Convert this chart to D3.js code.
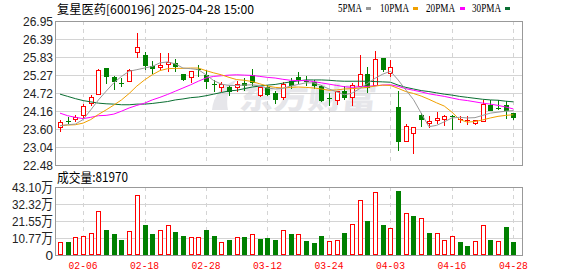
<!DOCTYPE html>
<html>
<head>
<meta charset="utf-8">
<script src="https://cdn.jsdelivr.net/npm/d3@7"></script>
<style>
  body { margin: 0; background: #fff; }
  svg { display: block; }
</style>
</head>
<body>
<div id="chart"></div>
<script>
// 交易日（2025-01-24 ~ 2025-04-28，共 60 根 K 线）
const dates = [
  "01-24","01-27","02-05","02-06","02-07","02-10","02-11","02-12","02-13","02-14",
  "02-17","02-18","02-19","02-20","02-21","02-24","02-25","02-26","02-27","02-28",
  "03-03","03-04","03-05","03-06","03-07","03-10","03-11","03-12","03-13","03-14",
  "03-17","03-18","03-19","03-20","03-21","03-24","03-25","03-26","03-27","03-28",
  "03-31","04-01","04-02","04-03","04-07","04-08","04-09","04-10","04-11","04-14",
  "04-15","04-16","04-17","04-18","04-21","04-22","04-23","04-24","04-25","04-28"
];

// K 线数据
const open  = [23.65,23.85,23.92,24.04,24.40,24.69,25.49,25.21,25.03,25.10,
               25.99,25.88,25.56,25.53,25.62,25.66,25.30,25.22,25.45,25.27,
               24.99,24.91,24.90,24.90,25.02,25.26,24.66,24.89,24.71,24.59,
               25.08,25.21,25.10,25.06,24.92,24.56,24.49,24.77,24.58,24.92,
               25.31,24.95,25.80,25.34,24.28,23.22,23.46,24.04,23.77,23.87,
               23.90,24.00,23.89,23.84,23.79,23.85,24.35,24.24,24.35,24.08];
const high  = [23.87,23.96,24.02,24.37,24.64,25.47,25.49,25.25,25.17,25.47,
               26.58,25.99,25.70,25.96,25.96,25.78,25.30,25.41,25.59,25.44,
               25.13,25.05,24.97,25.08,25.18,25.47,24.89,24.97,24.77,25.06,
               25.18,25.36,25.23,25.13,24.97,24.71,24.77,24.94,25.03,25.90,
               25.51,26.03,25.80,25.73,24.77,23.75,23.66,24.09,24.00,24.13,
               24.02,24.02,23.99,23.99,23.89,24.51,24.51,24.51,24.46,24.08];
const low   = [23.53,23.77,23.84,23.98,24.33,24.69,25.03,24.85,24.93,25.08,
               25.82,25.47,25.34,25.47,25.39,25.39,25.13,25.06,25.23,24.87,
               24.77,24.77,24.66,24.77,24.82,24.97,24.63,24.66,24.40,24.54,
               24.87,25.03,24.97,24.87,24.46,24.35,24.38,24.53,24.33,24.92,
               24.74,24.95,25.39,25.23,22.95,23.22,22.85,23.68,23.66,23.78,
               23.73,23.61,23.81,23.76,23.76,23.84,24.18,24.22,23.94,23.92];
const close = [23.80,23.80,23.96,24.32,24.58,25.43,25.25,25.10,25.00,25.42,
               26.14,25.59,25.49,25.58,25.67,25.54,25.15,25.41,25.42,25.08,
               24.97,24.99,24.79,25.00,24.97,25.06,24.89,24.68,24.54,24.99,
               24.97,25.11,25.06,24.97,24.51,24.52,24.77,24.59,24.97,25.30,
               24.89,25.77,25.46,25.51,23.22,23.68,23.66,23.92,23.84,23.94,
               24.00,23.96,23.92,23.88,23.89,24.38,24.20,24.22,24.18,23.96];

// 均线
const ma5  = [23.70,23.73,23.75,23.89,24.19,24.50,24.77,25.03,25.23,25.39,
              25.44,25.49,25.54,25.65,25.68,25.62,25.49,25.47,25.44,25.28,
              25.10,24.99,24.95,24.95,24.96,24.97,24.93,24.87,24.84,24.86,
              24.93,24.98,25.03,25.03,24.95,24.84,24.75,24.66,24.71,24.85,
              25.01,25.17,25.30,25.39,25.12,24.81,24.51,24.09,23.67,23.71,
              23.82,23.94,23.96,23.94,23.95,24.02,24.09,24.12,24.15,24.17];
const ma10 = [23.70,23.72,23.73,23.78,23.89,24.05,24.19,24.34,24.50,24.70,
              24.93,25.12,25.28,25.41,25.47,25.48,25.48,25.49,25.49,25.41,
              25.34,25.28,25.20,25.13,25.11,25.07,25.00,24.93,24.89,24.87,
              24.89,24.90,24.89,24.87,24.84,24.80,24.81,24.84,24.85,24.87,
              24.89,24.93,24.96,24.95,24.86,24.76,24.70,24.62,24.52,24.41,
              24.31,24.12,23.89,23.81,23.83,23.88,23.94,23.99,24.02,24.04];
const ma20 = [24.09,24.01,23.96,23.92,23.96,24.01,24.02,24.06,24.15,24.25,
              24.33,24.40,24.50,24.58,24.67,24.77,24.87,24.97,25.08,25.18,
              25.23,25.25,25.27,25.28,25.27,25.26,25.23,25.20,25.18,25.14,
              25.11,25.10,25.10,25.07,25.03,24.99,24.95,24.91,24.89,24.91,
              24.92,24.94,24.96,24.97,24.92,24.85,24.80,24.75,24.69,24.65,
              24.61,24.56,24.51,24.48,24.44,24.40,24.37,24.33,24.28,24.22];
const ma30 = [24.68,24.61,24.54,24.48,24.44,24.40,24.38,24.37,24.35,24.35,
              24.37,24.37,24.39,24.42,24.45,24.50,24.53,24.57,24.59,24.63,
              24.68,24.73,24.78,24.80,24.85,24.90,24.93,24.96,24.98,25.02,
              25.06,25.09,25.12,25.12,25.12,25.11,25.09,25.08,25.08,25.08,
              25.08,25.07,25.06,25.05,24.96,24.89,24.84,24.79,24.76,24.72,
              24.68,24.65,24.61,24.58,24.55,24.52,24.50,24.49,24.46,24.44];

// 成交量（万手）及涨跌（1 = 涨，红色空心）
const volume = [8.05,8.24,11.2,12.0,13.7,27.9,15.8,13.3,9.5,15.0,
                38.0,19.0,13.3,15.6,18.8,14.6,12.0,11.2,11.2,15.8,
                12.0,8.05,9.5,11.2,11.4,13.1,10.1,10.8,9.5,15.6,
                13.3,13.1,8.9,7.6,12.0,8.7,9.3,13.9,19.4,34.9,
                21.5,39.7,19.0,16.9,40.6,26.4,24.7,23.3,13.9,13.7,
                9.3,12.0,8.2,5.9,8.7,18.8,9.5,8.7,17.7,8.197];
const volUp = [1,0,1,1,1,1,0,0,0,1, 1,0,0,1,1,0,0,1,1,0,
               0,1,0,1,0,1,0,0,0,1, 0,1,0,0,0,1,1,0,1,1,
               0,1,0,1,0,1,0,1,0,1, 1,1,0,0,1,1,0,1,0,0];

const priceTicks = ["26.95","26.39","25.83","25.27","24.72","24.16","23.60","23.04","22.48"];
const volTicks = ["43.10万","32.32万","21.55万","10.77万","0"];
const volTickVals = [43.10, 32.32, 21.55, 10.77, 0];
const dateTicks = ["02-06","02-18","02-28","03-12","03-24","04-03","04-16","04-28"];

const RED = "#ff0000", GREEN = "#008000";
const maColors = { ma5: "#999999", ma10: "#f0a000", ma20: "#ff00ff", ma30: "#0a6e32" };

const W = 578, H = 276;
const main = { left: 55, right: 522, top: 21, bottom: 165 };
const vol = { top: 187, bottom: 255 };

const svg = d3.select("#chart").append("svg")
    .attr("width", W).attr("height", H)
    .style("font-family", "'Liberation Sans', Arial, sans-serif");

const x = d3.scalePoint().domain(dates).range([60, 513.4]);
const y = d3.scaleLinear().domain([22.48, 26.95]).range([main.bottom, main.top]);
const yv = d3.scaleLinear().domain([0, 43.10]).range([vol.bottom, vol.top]);
const px = d => Math.round(x(d));

// 水印
const wm = svg.append("g").attr("fill", "#e6e6ea");
wm.append("path").attr("d", "M212,110 Q214,88 238,79 Q224,92 228,110 Z");
wm.append("text")
    .attr("x", 240).attr("y", 109)
    .attr("font-family", "'Noto Sans CJK SC', sans-serif")
    .attr("font-weight", "900").attr("font-size", 30)
    .attr("textLength", 137).attr("lengthAdjust", "spacingAndGlyphs")
    .attr("transform", "skewX(-6) translate(10,0)")
    .text("东方财富");

// 网格
const grid = svg.append("g").attr("stroke", "#d4d4d4").attr("stroke-width", 1).attr("shape-rendering", "crispEdges");
priceTicks.forEach(t => {
    const yy = Math.round(y(+t)) + 0.5;
    grid.append("line").attr("x1", main.left).attr("x2", main.right).attr("y1", yy).attr("y2", yy);
});
volTickVals.forEach(v => {
    const yy = Math.round(yv(v)) + 0.5;
    grid.append("line").attr("x1", main.left).attr("x2", main.right).attr("y1", yy).attr("y2", yy);
});
dateTicks.forEach(d => {
    const xx = px(d) + 0.5;
    grid.append("line").attr("x1", xx).attr("x2", xx).attr("y1", main.top).attr("y2", main.bottom)
        .attr("stroke-dasharray", "4,4");
    grid.append("line").attr("x1", xx).attr("x2", xx).attr("y1", vol.top).attr("y2", vol.bottom)
        .attr("stroke-dasharray", "4,4");
});

// 边框
const frame = svg.append("g").attr("fill", "none").attr("stroke", "#999").attr("shape-rendering", "crispEdges");
frame.append("rect").attr("x", main.left + 0.5).attr("y", main.top + 0.5)
    .attr("width", main.right - main.left).attr("height", main.bottom - main.top);
frame.append("rect").attr("x", main.left + 0.5).attr("y", vol.top + 0.5)
    .attr("width", main.right - main.left).attr("height", vol.bottom - vol.top);

// K 线
const candles = dates.map((d, i) => ({ d, o: open[i], h: high[i], l: low[i], c: close[i] }));
const kg = svg.append("g").attr("shape-rendering", "crispEdges");
candles.forEach(k => {
    const up = k.c >= k.o;
    const col = up ? RED : GREEN;
    const cx = px(k.d);
    const yT = Math.round(y(Math.max(k.o, k.c)));
    const yB = Math.round(y(Math.min(k.o, k.c)));
    const yH = Math.round(y(k.h));
    const yL = Math.round(y(k.l));
    if (up) {
        if (yH < yT) kg.append("line").attr("x1", cx + 0.5).attr("x2", cx + 0.5).attr("y1", yH).attr("y2", yT).attr("stroke", col);
        if (yL > yB) kg.append("line").attr("x1", cx + 0.5).attr("x2", cx + 0.5).attr("y1", yB).attr("y2", yL + 1).attr("stroke", col);
    } else {
        kg.append("line").attr("x1", cx + 0.5).attr("x2", cx + 0.5).attr("y1", yH).attr("y2", yL + 1).attr("stroke", col);
    }
    if (yB - yT < 2) {
        kg.append("rect").attr("x", cx - 2).attr("y", yT).attr("width", 5).attr("height", Math.max(1, yB - yT)).attr("fill", col);
    } else if (up) {
        kg.append("rect").attr("x", cx - 1.5).attr("y", yT + 0.5).attr("width", 4).attr("height", yB - yT)
            .attr("fill", "#fff").attr("stroke", col);
    } else {
        kg.append("rect").attr("x", cx - 2).attr("y", yT).attr("width", 5).attr("height", yB - yT + 1).attr("fill", col);
    }
});

// 均线
const line = d3.line().x((v, i) => x(dates[i])).y(v => y(v));
[["ma30", ma30], ["ma20", ma20], ["ma10", ma10], ["ma5", ma5]].forEach(([k, arr]) => {
    svg.append("path").datum(arr).attr("d", line)
        .attr("fill", "none").attr("stroke", maColors[k]).attr("stroke-width", 1);
});

// 成交量
const vg = svg.append("g").attr("shape-rendering", "crispEdges");
volume.forEach((v, i) => {
    const cx = px(dates[i]);
    const top = Math.round(yv(v));
    if (volUp[i]) {
        vg.append("rect").attr("x", cx - 1.5).attr("y", top + 0.5).attr("width", 4).attr("height", vol.bottom - top - 1)
            .attr("fill", "#fff").attr("stroke", RED);
    } else {
        vg.append("rect").attr("x", cx - 2).attr("y", top).attr("width", 5).attr("height", vol.bottom - top).attr("fill", GREEN);
    }
});

// 坐标轴文字
const axisText = svg.append("g").attr("fill", "#222").attr("font-size", 13.5).attr("text-anchor", "end");
priceTicks.forEach(t => {
    axisText.append("text").attr("x", 53).attr("y", y(+t)).attr("dy", "0.36em")
        .attr("textLength", 30).attr("lengthAdjust", "spacingAndGlyphs").text(t);
});
volTicks.forEach((t, i) => {
    const txt = axisText.append("text").attr("x", 53).attr("y", yv(volTickVals[i])).attr("dy", "0.36em")
        .attr("font-family", "'Liberation Sans', 'Noto Sans CJK SC', sans-serif");
    if (t !== "0") txt.attr("textLength", 41).attr("lengthAdjust", "spacingAndGlyphs");
    txt.text(t);
});

svg.append("g").attr("fill", RED).attr("font-size", 10.5)
    .attr("font-family", "'Liberation Mono', 'DejaVu Sans Mono', monospace")
    .selectAll("text").data(dateTicks).join("text")
    .attr("x", d => x(d)).attr("y", 269).attr("text-anchor", "middle")
    .attr("textLength", 29).attr("lengthAdjust", "spacingAndGlyphs")
    .text(d => d);

// 标题 & 图例
svg.append("text").attr("x", 57).attr("y", 13.5).attr("font-size", 12).attr("fill", "#000")
    .attr("font-family", "'Noto Sans CJK SC', sans-serif")
    .attr("textLength", 197).attr("lengthAdjust", "spacingAndGlyphs")
    .text("复星医药[600196] 2025-04-28 15:00");

svg.append("text").attr("x", 57).attr("y", 182).attr("font-size", 13).attr("fill", "#000")
    .attr("font-family", "'Noto Sans CJK SC', sans-serif")
    .attr("textLength", 71).attr("lengthAdjust", "spacingAndGlyphs")
    .text("成交量:" + Math.round(volume[volume.length - 1] * 10000));

const legend = [
    { name: "5PMA", key: "ma5", tx: 338, tw: 24, sx: 366 },
    { name: "10PMA", key: "ma10", tx: 380, tw: 29, sx: 413 },
    { name: "20PMA", key: "ma20", tx: 426, tw: 29, sx: 460 },
    { name: "30PMA", key: "ma30", tx: 472, tw: 29, sx: 505 }
];
const lg = svg.append("g").attr("font-family", "'Liberation Serif', serif").attr("font-size", 11.5);
legend.forEach(l => {
    lg.append("text").attr("x", l.tx).attr("y", 12).attr("fill", "#000")
        .attr("textLength", l.tw).attr("lengthAdjust", "spacingAndGlyphs").text(l.name);
    lg.append("rect").attr("x", l.sx).attr("y", 7).attr("width", 5).attr("height", 3).attr("fill", maColors[l.key]);
});
</script>
</body>
</html>
